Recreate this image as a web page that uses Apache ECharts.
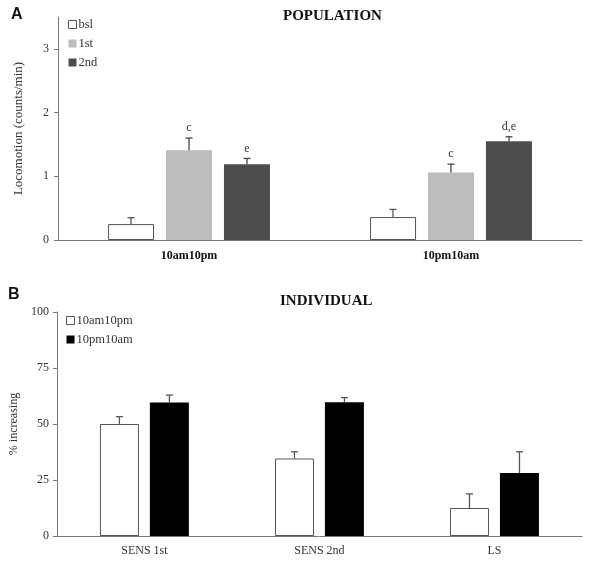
<!DOCTYPE html>
<html>
<head>
<meta charset="utf-8">
<script src="https://cdn.jsdelivr.net/npm/echarts@6/dist/echarts.min.js"></script>
<style>html,body{margin:0;padding:0;background:#fff;}#c{width:590px;height:563px;}</style>
</head>
<body>
<div id="c"></div>
<script>
// Panel A data
const catsA = ['10am10pm', '10pm10am'];
const bsl = [0.25, 0.36];
const bslErr = [0.10, 0.12];
const first = [1.41, 1.06];
const firstErr = [0.19, 0.13];
const second = [1.19, 1.55];
const secondErr = [0.09, 0.07];
const sigBsl = ['', ''];
const sigFirst = ['c', 'c'];
const sigSecond = ['e', 'd,e'];
const ticksA = [0, 1, 2, 3];

// Panel B data
const catsB = ['SENS 1st', 'SENS 2nd', 'LS'];
const amPm = [50, 34.6, 12.5];
const amPmErr = [3.3, 3.0, 6.3];
const pmAm = [59.6, 59.7, 28.1];
const pmAmErr = [3.3, 2.1, 9.5];
const ticksB = [0, 25, 50, 75, 100];

const SERIF = '"Liberation Serif", "DejaVu Serif", serif';
const TXT = '#333';
const AXC = '#777';

function toData(vals, errs) { return vals.map((v, i) => [i, v, errs[i]]); }

function errSeries(name, vals, errs, sigs, offset, xi, color) {
  return {
    type: 'custom', name: name + '_err', xAxisIndex: xi, yAxisIndex: xi, z: 5,
    data: toData(vals, errs),
    encode: { x: 0, y: [1, 2] },
    renderItem: function (params, api) {
      const x = api.value(0), v = api.value(1), e = api.value(2);
      const b = api.coord([x, v]);
      const t = api.coord([x, v + e]);
      const cx = b[0] + offset;
      const children = [
        { type: 'line', shape: { x1: cx, y1: b[1], x2: cx, y2: t[1] }, style: { stroke: color, lineWidth: 1.3 } },
        { type: 'line', shape: { x1: cx - 3.5, y1: t[1], x2: cx + 3.5, y2: t[1] }, style: { stroke: color, lineWidth: 1.3 } }
      ];
      const s = sigs[params.dataIndex];
      if (s) {
        children.push({ type: 'text', style: { text: s, x: cx, y: t[1] - 4, align: 'center', verticalAlign: 'bottom', font: '12px ' + SERIF, fill: TXT } });
      }
      return { type: 'group', children: children };
    }
  };
}

const chart = echarts.init(document.getElementById('c'), null, { renderer: 'canvas' });
chart.setOption({
  animation: false,
  backgroundColor: '#fff',
  title: [
    { text: 'A', left: 6, top: 2, textStyle: { fontFamily: '"Liberation Sans", Arial, sans-serif', fontWeight: 'bold', fontSize: 16, color: '#111' } },
    { text: 'POPULATION', left: 278, top: 4, textStyle: { fontFamily: SERIF, fontWeight: 'bold', fontSize: 15, color: '#111' } },
    { text: 'B', left: 3, top: 282, textStyle: { fontFamily: '"Liberation Sans", Arial, sans-serif', fontWeight: 'bold', fontSize: 16, color: '#111' } },
    { text: 'INDIVIDUAL', left: 275, top: 289, textStyle: { fontFamily: SERIF, fontWeight: 'bold', fontSize: 15, color: '#111' } }
  ],
  legend: [
    { data: ['bsl', '1st', '2nd'], orient: 'vertical', left: 63, top: 13, itemWidth: 8, itemHeight: 8, itemGap: 6, icon: 'rect',
      itemStyle: { borderWidth: 1 },
      textStyle: { fontFamily: SERIF, fontSize: 12.5, color: TXT, padding: [0, 0, 0, -3] } },
    { data: ['10am10pm', '10pm10am'], orient: 'vertical', left: 61, top: 309, itemWidth: 8, itemHeight: 8, itemGap: 6, icon: 'rect',
      itemStyle: { borderWidth: 1 },
      textStyle: { fontFamily: SERIF, fontSize: 12.5, color: TXT, padding: [0, 0, 0, -3] } }
  ],
  grid: [
    { left: 58, right: 8, top: 17, bottom: 323 },
    { left: 54, right: 8, top: 312, bottom: 27 }
  ],
  xAxis: [
    { type: 'category', gridIndex: 0, data: catsA,
      axisLine: { lineStyle: { color: AXC, width: 1 } }, axisTick: { show: false },
      axisLabel: { margin: 10, fontFamily: SERIF, fontWeight: 'bold', fontSize: 12, color: '#111' } },
    { type: 'category', gridIndex: 1, data: catsB,
      axisLine: { lineStyle: { color: AXC, width: 1 } }, axisTick: { show: false },
      axisLabel: { margin: 9, fontFamily: SERIF, fontSize: 12, color: TXT } }
  ],
  yAxis: [
    { type: 'value', gridIndex: 0, min: 0, max: 3.5, interval: 1,
      name: 'Locomotion (counts/min)', nameLocation: 'middle', nameGap: 33,
      nameTextStyle: { fontFamily: SERIF, fontSize: 13, color: TXT },
      axisLine: { show: true, lineStyle: { color: AXC } },
      axisTick: { show: true, length: 4, inside: false, customValues: ticksA, lineStyle: { color: AXC } },
      axisLabel: { margin: 9, customValues: ticksA, fontFamily: SERIF, fontSize: 12, color: TXT },
      splitLine: { show: false } },
    { type: 'value', gridIndex: 1, min: 0, max: 100, interval: 25,
      name: '% increasing', nameLocation: 'middle', nameGap: 34,
      nameTextStyle: { fontFamily: SERIF, fontSize: 12, color: TXT },
      axisLine: { show: true, lineStyle: { color: AXC } },
      axisTick: { show: true, length: 4, inside: false, customValues: ticksB, lineStyle: { color: AXC } },
      axisLabel: { margin: 8, customValues: ticksB, fontFamily: SERIF, fontSize: 12, color: TXT },
      splitLine: { show: false } }
  ],
  series: [
    { type: 'bar', name: 'bsl', xAxisIndex: 0, yAxisIndex: 0, data: bsl, barWidth: 46, barGap: '26%',
      itemStyle: { color: '#fff', borderColor: '#555', borderWidth: 1 } },
    { type: 'bar', name: '1st', xAxisIndex: 0, yAxisIndex: 0, data: first, barWidth: 46, barGap: '26%',
      itemStyle: { color: '#bdbdbd' } },
    { type: 'bar', name: '2nd', xAxisIndex: 0, yAxisIndex: 0, data: second, barWidth: 46, barGap: '26%',
      itemStyle: { color: '#4d4d4d' } },
    { type: 'bar', name: '10am10pm', xAxisIndex: 1, yAxisIndex: 1, data: amPm, barWidth: 39, barGap: '28%',
      itemStyle: { color: '#fff', borderColor: '#555', borderWidth: 1 } },
    { type: 'bar', name: '10pm10am', xAxisIndex: 1, yAxisIndex: 1, data: pmAm, barWidth: 39, barGap: '28%',
      itemStyle: { color: '#000' } },
    errSeries('bsl', bsl, bslErr, sigBsl, -58, 0, '#555'),
    errSeries('1st', first, firstErr, sigFirst, 0, 0, '#444'),
    errSeries('2nd', second, secondErr, sigSecond, 58, 0, '#444'),
    errSeries('10am10pm', amPm, amPmErr, ['', '', ''], -25, 1, '#555'),
    errSeries('10pm10am', pmAm, pmAmErr, ['', '', ''], 25, 1, '#555')
  ]
});
</script>
</body>
</html>
